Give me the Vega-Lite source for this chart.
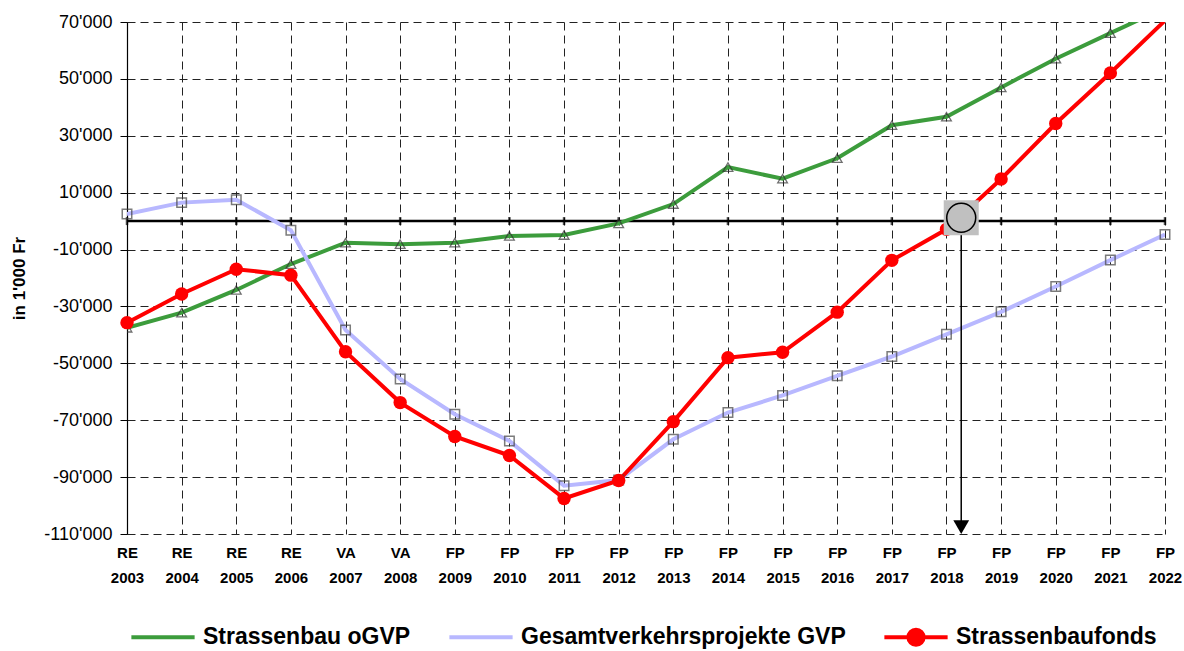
{
  "$schema": "https://vega.github.io/schema/vega-lite/v6.json",
  "width": 1038,
  "height": 512,
  "autosize": {"type": "none"},
  "padding": {"left": 127, "top": 22, "right": 19, "bottom": 117},
  "config": {"view": {"stroke": null}, "font": "Liberation Sans"},
  "datasets": {
    "series": [
      {"year": 2003, "series": "Strassenbau oGVP", "value": -37500},
      {"year": 2004, "series": "Strassenbau oGVP", "value": -32200},
      {"year": 2005, "series": "Strassenbau oGVP", "value": -24200},
      {"year": 2006, "series": "Strassenbau oGVP", "value": -15100},
      {"year": 2007, "series": "Strassenbau oGVP", "value": -7600},
      {"year": 2008, "series": "Strassenbau oGVP", "value": -8100},
      {"year": 2009, "series": "Strassenbau oGVP", "value": -7600},
      {"year": 2010, "series": "Strassenbau oGVP", "value": -5200},
      {"year": 2011, "series": "Strassenbau oGVP", "value": -4900},
      {"year": 2012, "series": "Strassenbau oGVP", "value": -800},
      {"year": 2013, "series": "Strassenbau oGVP", "value": 6000},
      {"year": 2014, "series": "Strassenbau oGVP", "value": 19000},
      {"year": 2015, "series": "Strassenbau oGVP", "value": 14900},
      {"year": 2016, "series": "Strassenbau oGVP", "value": 22100},
      {"year": 2017, "series": "Strassenbau oGVP", "value": 33700},
      {"year": 2018, "series": "Strassenbau oGVP", "value": 36700},
      {"year": 2019, "series": "Strassenbau oGVP", "value": 47000},
      {"year": 2020, "series": "Strassenbau oGVP", "value": 57100},
      {"year": 2021, "series": "Strassenbau oGVP", "value": 66100},
      {"year": 2022, "series": "Strassenbau oGVP", "value": 75000},
      {"year": 2003, "series": "Gesamtverkehrsprojekte GVP", "value": 2500},
      {"year": 2004, "series": "Gesamtverkehrsprojekte GVP", "value": 6500},
      {"year": 2005, "series": "Gesamtverkehrsprojekte GVP", "value": 7500},
      {"year": 2006, "series": "Gesamtverkehrsprojekte GVP", "value": -3200},
      {"year": 2007, "series": "Gesamtverkehrsprojekte GVP", "value": -38300},
      {"year": 2008, "series": "Gesamtverkehrsprojekte GVP", "value": -55500},
      {"year": 2009, "series": "Gesamtverkehrsprojekte GVP", "value": -67900},
      {"year": 2010, "series": "Gesamtverkehrsprojekte GVP", "value": -77300},
      {"year": 2011, "series": "Gesamtverkehrsprojekte GVP", "value": -93000},
      {"year": 2012, "series": "Gesamtverkehrsprojekte GVP", "value": -91000},
      {"year": 2013, "series": "Gesamtverkehrsprojekte GVP", "value": -76700},
      {"year": 2014, "series": "Gesamtverkehrsprojekte GVP", "value": -67300},
      {"year": 2015, "series": "Gesamtverkehrsprojekte GVP", "value": -61300},
      {"year": 2016, "series": "Gesamtverkehrsprojekte GVP", "value": -54400},
      {"year": 2017, "series": "Gesamtverkehrsprojekte GVP", "value": -47600},
      {"year": 2018, "series": "Gesamtverkehrsprojekte GVP", "value": -39800},
      {"year": 2019, "series": "Gesamtverkehrsprojekte GVP", "value": -31900},
      {"year": 2020, "series": "Gesamtverkehrsprojekte GVP", "value": -23000},
      {"year": 2021, "series": "Gesamtverkehrsprojekte GVP", "value": -13700},
      {"year": 2022, "series": "Gesamtverkehrsprojekte GVP", "value": -4700},
      {"year": 2003, "series": "Strassenbaufonds", "value": -35700},
      {"year": 2004, "series": "Strassenbaufonds", "value": -25600},
      {"year": 2005, "series": "Strassenbaufonds", "value": -16900},
      {"year": 2006, "series": "Strassenbaufonds", "value": -19000},
      {"year": 2007, "series": "Strassenbaufonds", "value": -45900},
      {"year": 2008, "series": "Strassenbaufonds", "value": -63800},
      {"year": 2009, "series": "Strassenbaufonds", "value": -75700},
      {"year": 2010, "series": "Strassenbaufonds", "value": -82400},
      {"year": 2011, "series": "Strassenbaufonds", "value": -97500},
      {"year": 2012, "series": "Strassenbaufonds", "value": -91200},
      {"year": 2013, "series": "Strassenbaufonds", "value": -70500},
      {"year": 2014, "series": "Strassenbaufonds", "value": -48000},
      {"year": 2015, "series": "Strassenbaufonds", "value": -46100},
      {"year": 2016, "series": "Strassenbaufonds", "value": -32000},
      {"year": 2017, "series": "Strassenbaufonds", "value": -13800},
      {"year": 2018, "series": "Strassenbaufonds", "value": -2900},
      {"year": 2019, "series": "Strassenbaufonds", "value": 14800},
      {"year": 2020, "series": "Strassenbaufonds", "value": 34300},
      {"year": 2021, "series": "Strassenbaufonds", "value": 52100},
      {"year": 2022, "series": "Strassenbaufonds", "value": 70500}
    ],
    "marker": [{"year": 2018.27, "value": 1200}],
    "arrow": [{"year": 2018.27, "value": 1200, "end": -107000, "head": -107600}]
  },
  "data": {"name": "series"},
  "encoding": {
    "x": {
      "field": "year",
      "type": "quantitative",
      "scale": {"domain": [2003, 2022], "nice": false, "zero": false},
      "axis": {
        "values": [2003, 2004, 2005, 2006, 2007, 2008, 2009, 2010, 2011, 2012, 2013, 2014, 2015, 2016, 2017, 2018, 2019, 2020, 2021, 2022],
        "format": "d",
        "labelExpr": "[datum.value <= 2006 ? 'RE' : datum.value <= 2008 ? 'VA' : 'FP', datum.label]",
        "grid": true,
        "gridDash": [8, 5],
        "gridColor": "#222",
        "gridWidth": 1,
        "domain": false,
        "ticks": false,
        "labelFont": "Liberation Sans",
        "labelFontWeight": "bold",
        "labelFontSize": 15,
        "labelLineHeight": 25,
        "labelPadding": 11,
        "labelColor": "#000",
        "labelFlush": false,
        "labelOverlap": false,
        "labelBound": false,
        "title": null
      }
    },
    "y": {
      "field": "value",
      "type": "quantitative",
      "scale": {"domain": [-110000, 70000], "nice": false, "zero": false},
      "axis": {
        "values": [-110000, -90000, -70000, -50000, -30000, -10000, 10000, 30000, 50000, 70000],
        "labelExpr": "(datum.value < 0 ? '-' : '') + replace(format(abs(datum.value), ','), ',', \"'\")",
        "grid": true,
        "gridDash": [8, 5],
        "gridColor": "#222",
        "gridWidth": 1,
        "domain": true,
        "domainColor": "#000",
        "domainWidth": 1.2,
        "ticks": true,
        "tickColor": "#000",
        "tickSize": 7,
        "labelFont": "Liberation Sans",
        "labelFontSize": 18,
        "labelColor": "#000",
        "labelPadding": 8,
        "title": "in 1'000 Fr",
        "titleFont": "Liberation Sans",
        "titleFontWeight": "bold",
        "titleFontSize": 17,
        "titleColor": "#000",
        "titlePadding": 15
      }
    }
  },
  "layer": [
    {
      "data": {"name": "marker"},
      "mark": {"type": "rule", "color": "#000", "strokeWidth": 2.5},
      "encoding": {"x": {"datum": 2003}, "x2": {"datum": 2022}, "y": {"datum": 0}}
    },
    {
      "transform": [{"filter": "datum.series === 'Strassenbaufonds'"}],
      "mark": {"type": "tick", "orient": "vertical", "color": "#000", "size": 8, "thickness": 2.5},
      "encoding": {"y": {"datum": 0}}
    },
    {
      "mark": {"type": "line", "strokeWidth": 4, "clip": true},
      "encoding": {
        "color": {
          "field": "series",
          "type": "nominal",
          "scale": {
            "domain": ["Strassenbau oGVP", "Gesamtverkehrsprojekte GVP", "Strassenbaufonds"],
            "range": ["#3c9c3c", "#b8b8ff", "#ff0000"]
          },
          "legend": {
            "orient": "none",
            "legendX": 2,
            "legendY": 581,
            "direction": "horizontal",
            "columns": 3,
            "title": null,
            "symbolType": "M-1,0H1",
            "symbolSize": 4000,
            "symbolStrokeWidth": 4,
            "labelFont": "Liberation Sans",
            "labelFontWeight": "bold",
            "labelFontSize": 23,
            "labelColor": "#000",
            "labelOffset": 6,
            "labelLimit": 500,
            "columnPadding": 30,
            "encode": {
              "symbols": {
                "update": {
                  "shape": {"signal": "datum.value === 'Strassenbaufonds' ? 'M0,-0.3L0,-0.3M0,0.3L0,0.3M-1,0H1M0.24,0A0.24,0.24,0,1,1,-0.24,0A0.24,0.24,0,1,1,0.24,0Z' : 'M0,-0.3L0,-0.3M0,0.3L0,0.3M-1,0H1'"},
                  "fill": {"signal": "datum.value === 'Strassenbaufonds' ? '#ff0000' : 'transparent'"}
                }
              }
            }
          }
        }
      }
    },
    {
      "transform": [{"filter": "datum.series === 'Strassenbau oGVP'"}],
      "mark": {"type": "point", "shape": "triangle-up", "size": 95, "filled": false, "stroke": "#333", "strokeWidth": 1.3, "clip": true}
    },
    {
      "transform": [{"filter": "datum.series === 'Gesamtverkehrsprojekte GVP'"}],
      "mark": {"type": "point", "shape": "square", "size": 90, "filled": false, "stroke": "#444", "strokeWidth": 1.5}
    },
    {
      "transform": [{"filter": "datum.series === 'Strassenbaufonds' && datum.year < 2022"}],
      "mark": {"type": "point", "shape": "circle", "size": 180, "filled": true, "color": "#ff0000", "opacity": 1}
    },
    {
      "data": {"name": "arrow"},
      "mark": {"type": "rule", "color": "#000", "strokeWidth": 1.5},
      "encoding": {"y2": {"field": "end"}}
    },
    {
      "data": {"name": "arrow"},
      "mark": {"type": "point", "shape": "triangle-down", "size": 250, "filled": true, "color": "#000", "opacity": 1},
      "encoding": {"y": {"field": "head", "type": "quantitative"}}
    },
    {
      "data": {"name": "marker"},
      "mark": {"type": "point", "shape": "square", "size": 1225, "filled": true, "color": "#c0c0c0", "opacity": 1}
    },
    {
      "data": {"name": "marker"},
      "mark": {"type": "point", "shape": "circle", "size": 840, "filled": true, "fill": "#c0c0c0", "stroke": "#000", "strokeWidth": 1.5, "opacity": 1}
    }
  ]
}
